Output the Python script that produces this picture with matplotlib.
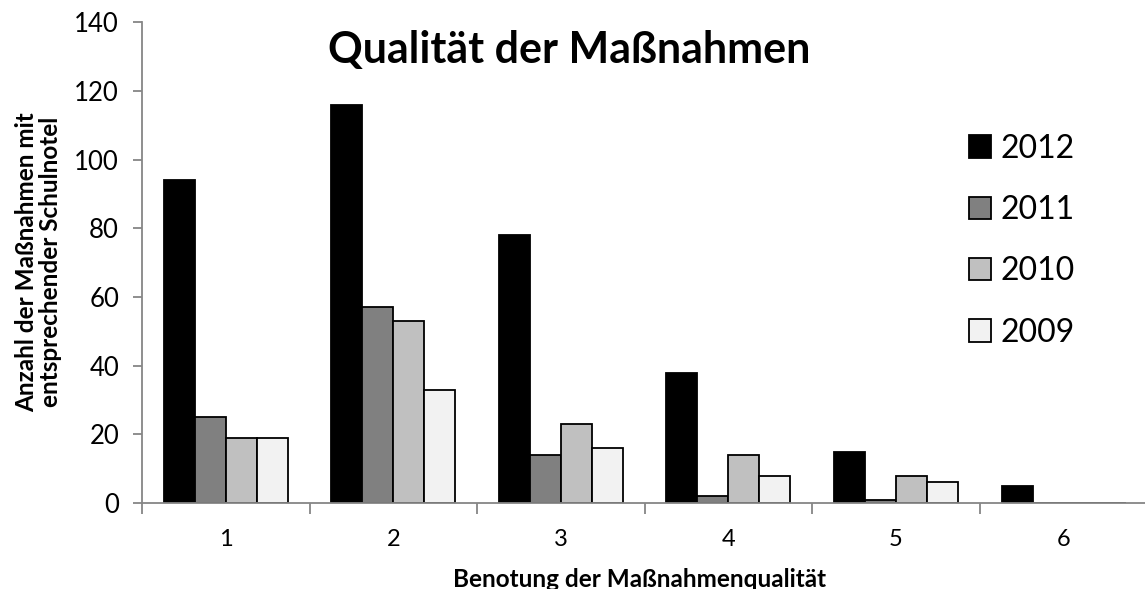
import matplotlib
matplotlib.use("Agg")
import matplotlib.pyplot as plt
import numpy as np

plt.rcParams["font.family"] = ["Lato", "DejaVu Sans"]

noten = ["1", "2", "3", "4", "5", "6"]
jahre = ["2012", "2011", "2010", "2009"]
werte_2012 = [94, 116, 78, 38, 15, 5]
werte_2011 = [25, 57, 14, 2, 1, 0]
werte_2010 = [19, 53, 23, 14, 8, 0]
werte_2009 = [19, 33, 16, 8, 6, 0]

FARBEN = ["#000000", "#808080", "#c0c0c0", "#f2f2f2"]
ACHSE = "#868686"


def main():
    fig = plt.figure(figsize=(11.45, 5.89), dpi=100)
    ax = fig.add_axes([0.124, 0.146, 0.878, 0.816])

    x = np.arange(1, len(noten) + 1)
    w = 0.185
    serien = [werte_2012, werte_2011, werte_2010, werte_2009]
    for i, (jahr, werte) in enumerate(zip(jahre, serien)):
        ax.bar(x + (i - 1.5) * w, werte, width=w, color=FARBEN[i],
               edgecolor="black", linewidth=1.3, label=jahr)

    ax.set_xlim(0.5, len(noten) + 0.5)
    ax.set_ylim(0, 140)
    ax.set_yticks(np.arange(0, 141, 20))
    ax.set_xticks(x)
    ax.set_xticklabels(noten)
    ax.set_xticks(np.arange(0.5, len(noten) + 1), minor=True)

    ax.tick_params(axis="x", which="major", length=0, labelsize=17, pad=19)
    ax.tick_params(axis="x", which="minor", length=8, width=1.3, color=ACHSE, direction="out")
    ax.tick_params(axis="y", length=6.5, width=1.3, color=ACHSE, labelsize=18.5, pad=10)

    for s in ["top", "right"]:
        ax.spines[s].set_visible(False)
    for s in ["left", "bottom"]:
        ax.spines[s].set_color(ACHSE)
        ax.spines[s].set_linewidth(1.3)

    # Achsentitel frei platziert wie im Original
    fig.text(0.559, 0.004, "Benotung der Maßnahmenqualität", ha="center", va="baseline",
             fontsize=17.5, fontweight="bold")
    fig.text(0.034, 0.555, "Anzahl der Maßnahmen mit\nentsprechender Schulnotel",
             rotation=90, ha="center", va="center", fontsize=17.5,
             fontweight="bold", linespacing=1.05)

    fig.text(0.497, 0.915, "Qualität der Maßnahmen", ha="center", va="center",
             fontsize=31, fontweight="bold")

    ax.legend(loc="upper left", bbox_to_anchor=(0.846, 0.773),
              bbox_transform=fig.transFigure, frameon=False, fontsize=23,
              handlelength=0.69, handleheight=0.69, handletextpad=0.3,
              labelspacing=0.98, borderpad=0, borderaxespad=0)

    fig.savefig("out.png", dpi=100)


if __name__ == "__main__":
    main()
